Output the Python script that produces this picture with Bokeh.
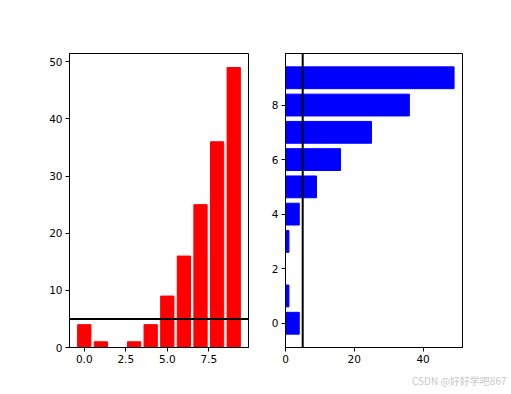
from bokeh.plotting import figure
from bokeh.layouts import row
from bokeh.models import FixedTicker, Span, Title
from bokeh.embed import file_html
from bokeh.resources import INLINE

# ---- data ----
x_vals = [0, 1, 2, 3, 4, 5, 6, 7, 8, 9]
y_vals = [4, 1, 0, 1, 4, 9, 16, 25, 36, 49]
threshold = 5
left_x_ticks = [0, 2.5, 5, 7.5]
left_x_labels = ["0.0", "2.5", "5.0", "7.5"]
left_y_ticks = [0, 10, 20, 30, 40, 50]
right_x_ticks = [0, 20, 40]
right_y_ticks = [0, 2, 4, 6, 8]
watermark = "CSDN @好好学吧867"

BAR_W = 0.8
cat_lo = min(x_vals) - BAR_W / 2
cat_hi = max(x_vals) + BAR_W / 2
cat_pad = 0.05 * (cat_hi - cat_lo)
cat_range = (cat_lo - cat_pad, cat_hi + cat_pad)
val_range = (0, max(y_vals) * 1.05)

FONT = "DejaVu Sans"
FS = "10.5px"


def style(p):
    p.xgrid.visible = False
    p.ygrid.visible = False
    p.outline_line_color = "black"
    p.outline_line_width = 1
    p.background_fill_color = "white"
    p.border_fill_color = "white"
    for ax in (p.xaxis[0], p.yaxis[0]):
        ax.axis_line_color = "black"
        ax.axis_line_width = 1
        ax.major_tick_line_color = "black"
        ax.major_tick_in = 0
        ax.major_tick_out = 4
        ax.minor_tick_line_color = None
        ax.major_label_text_font = FONT
        ax.major_label_text_font_size = FS
        ax.major_label_text_color = "black"
        ax.major_label_standoff = 3


H = 394
FRAME_H = 294
TOP = 53
FRAME_W = 179

left = figure(width=268, height=H, output_backend="svg", toolbar_location=None,
              x_range=cat_range, y_range=val_range,
              min_border_left=69, min_border_right=20,
              min_border_top=TOP, min_border_bottom=H - TOP - FRAME_H)
left.vbar(x=x_vals, top=y_vals, width=BAR_W, bottom=0, color="red")
left.add_layout(Span(location=threshold, dimension="width",
                     line_color="black", line_width=2))
style(left)
left.xaxis[0].ticker = FixedTicker(ticks=left_x_ticks)
left.xaxis[0].major_label_overrides = {t: l for t, l in zip(left_x_ticks, left_x_labels)}
left.yaxis[0].ticker = FixedTicker(ticks=left_y_ticks)

right = figure(width=243, height=H, output_backend="svg", toolbar_location=None,
               x_range=val_range, y_range=cat_range,
               min_border_left=15, min_border_right=49,
               min_border_top=TOP, min_border_bottom=H - TOP - FRAME_H)
right.hbar(y=x_vals, right=y_vals, height=BAR_W, left=0, color="blue")
right.add_layout(Span(location=threshold, dimension="height",
                      line_color="black", line_width=2))
style(right)
right.xaxis[0].ticker = FixedTicker(ticks=right_x_ticks)
right.yaxis[0].ticker = FixedTicker(ticks=right_y_ticks)

right.add_layout(Title(text=watermark, align="right", offset=-44, standoff=11,
                       text_font="Noto Sans CJK SC", text_font_size="10px",
                       text_font_style="normal", text_color="#c8c8c8"), "below")

layout = row(left, right)
open("out.html", "w").write(file_html(layout, INLINE))
